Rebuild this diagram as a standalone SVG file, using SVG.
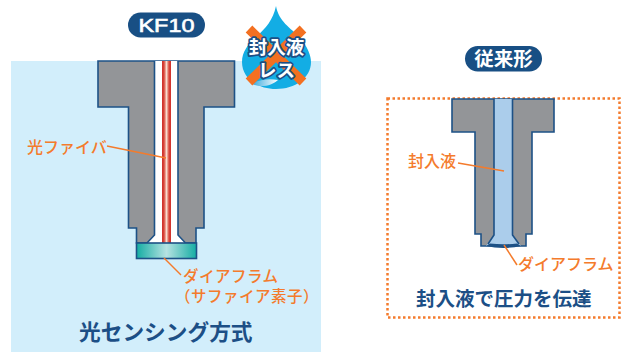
<svg xmlns="http://www.w3.org/2000/svg" width="629" height="352" viewBox="0 0 629 352">
<style>
.jp{font-family:"Noto Sans CJK JP","Noto Sans",sans-serif}
.lab{fill:#f47b2c;font-size:16px;font-weight:500}
.lab2{font-size:15.500px;letter-spacing:.5px}
.title{fill:#1c4f86;font-size:21.700px;font-weight:700}
.pill{fill:#184f84}
.pt{fill:#fff;font-weight:700;text-anchor:middle}
.kf{font-family:"Liberation Sans",sans-serif;font-size:19px;font-weight:400;stroke:#fff;stroke-width:.6px}
.body{fill:#939598;stroke:#1d5186;stroke-width:1.6;stroke-linejoin:miter}
.lead{fill:none;stroke:#f47b2c;stroke-width:1.5}
.drop{fill:#fff;stroke:#1c4f86;stroke-width:3.5;paint-order:stroke;font-weight:700;text-anchor:middle;stroke-linejoin:round}
</style>
<defs>
<linearGradient id="fib" x1="0" x2="1" y1="0" y2="0"><stop offset="0" stop-color="#cf2f2a"/><stop offset=".22" stop-color="#d8453a"/><stop offset=".5" stop-color="#f8ddcf"/><stop offset=".78" stop-color="#d8453a"/><stop offset="1" stop-color="#cf2f2a"/></linearGradient>
<linearGradient id="sap" x1="0" x2="1" y1="0" y2="0"><stop offset="0" stop-color="#14ada3"/><stop offset=".5" stop-color="#b6e2e2"/><stop offset="1" stop-color="#14ada3"/></linearGradient>
<linearGradient id="gl" x1="0" x2="1" y1="0" y2="0"><stop offset="0" stop-color="#39a9dc"/><stop offset="1" stop-color="#fff"/></linearGradient>
</defs>
<g id="kf10-panel"><rect x="11" y="61" width="310" height="291" fill="#d2eefb"/></g>
<g id="kf10-pill"><rect x="128" y="12.500" width="77" height="25" rx="12.500" class="pill"/><text x="166.500" y="31.500" class="pt kf" textLength="56" lengthAdjust="spacingAndGlyphs">KF10</text></g>
<g id="kf10-sensor">
<path class="body" d="M98 61V107H128.500V228H136.500V243H196V228H204V107H234.500V61Z"/>
<path d="M154.500 61V235L147 243H185.500L178 235V61Z" fill="#fff"/>
<path d="M154.500 61V235L147 243M178 61V235L185.500 243" fill="none" stroke="#1d5186" stroke-width="1.600"/>
<rect x="162" y="61" width="9" height="182" fill="url(#fib)"/>
<rect x="136.500" y="243" width="60" height="15.500" fill="url(#sap)" stroke="#1d5186" stroke-width="1.600"/>
</g>
<g id="drop">
<path d="M276 6C279 22 290 27 300 38C308 47 311 56 311 62C311 78 295 89 276 89C257 89 242 78 242 62C242 52 248 44 256 37C266 28 273 20 276 6Z" fill="#13ade4"/>
<path d="M252 84C258 80 268 78 278 80C272 86 260 88 252 84Z" fill="url(#gl)"/>
<path d="M249 29L303 82M303 29L249 82" stroke="#f37021" stroke-width="9.500"/>
<text x="276.500" y="53.500" class="jp drop" font-size="18.500">封入液</text>
<text x="276.500" y="77" class="jp drop" font-size="18.500">レス</text>
</g>
<g id="legacy-pill"><rect x="465" y="46" width="77" height="25.500" rx="12.700" class="pill"/><text x="503.500" y="65.500" class="jp pt" font-size="19.500">従来形</text></g>
<g id="legacy-frame"><rect x="387.500" y="98.500" width="232" height="219" fill="none" stroke="#f47b2c" stroke-width="2.500" stroke-dasharray="2.500 2.500"/></g>
<g id="legacy-sensor">
<path class="body" d="M452 99V132H475V234H481V246H526V234H532V132H554V99Z"/>
<path d="M494 99V235L486 246H521L512.500 235V99Z" fill="#abcdeb"/>
<path d="M494 99V235L488 244M512.500 99V235L519 244" fill="none" stroke="#1d5186" stroke-width="1.600"/>
<path d="M486 246Q503 250 521 246L517 243.500Q503 245 490 243.500Z" fill="#1d5186"/>
</g>
<g id="connectors">
<path class="lead" d="M107 146L166 158"/>
<path class="lead" d="M164 258L181 275"/>
<path class="lead" d="M458 163L504 171"/>
<path class="lead" d="M504 245L517 265"/>
</g>
<g id="labels">
<text x="27" y="153" class="jp lab">光ファイバ</text>
<text x="183" y="281.500" class="jp lab lab2">ダイアフラム</text>
<text x="175" y="302" class="jp lab lab2">（サファイア素子）</text>
<text x="79" y="340" class="jp title">光センシング方式</text>
<text x="408" y="167" class="jp lab">封入液</text>
<text x="518" y="270" class="jp lab">ダイアフラム</text>
<text x="416" y="306" class="jp title" style="font-size:19.500px">封入液で圧力を伝達</text>
</g>
</svg>
